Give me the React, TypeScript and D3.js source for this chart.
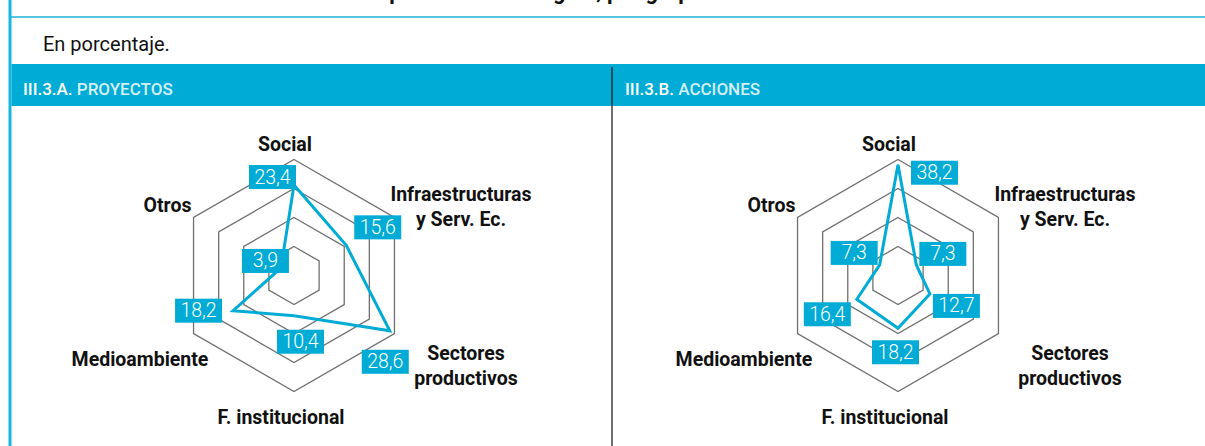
import * as d3 from 'd3';

// categories, clockwise from the top
const categoryLines = [
  ['Social'],
  ['Infraestructuras', 'y Serv. Ec.'],
  ['Sectores', 'productivos'],
  ['F. institucional'],
  ['Medioambiente'],
  ['Otros']
];

const proyectosValues = [23.4, 15.6, 28.6, 10.4, 18.2, 3.9];
const accionesValues = [38.2, 7.3, 12.7, 18.2, 16.4, 7.3];

// hexagon rings (scale ticks)
const proyectosGrid = [7.5, 15, 22.5, 30];
const accionesGrid = [10, 20, 30, 40];

const panelTitles = [
  { code: 'III.3.A.', name: 'PROYECTOS' },
  { code: 'III.3.B.', name: 'ACCIONES' }
];

// where each value box sits relative to its point (top-left corner)
const proyectosBoxOffsets = [[-45, -20], [8, -30], [-28, 19], [-17, 14], [-58, -12], [-39, -19]];
const accionesBoxOffsets = [[13, -4], [3, -23], [3, 0], [-26, 12], [-53, 3], [-49, -24]];

// category label placement relative to chart centre: [dx, first baseline dy]
const labelPlacement = [[-9, -124.5], [167, -74.5], [172, 84.5], [-13, 148], [-154, 90.5], [-126.5, -64]];

const BLUE = '#00acd6';
const R = 116;
const BOX_W = 47;
const BOX_H = 24;

const fmt = (v) => d3.format('.1f')(v).replace('.', ',');

function Radar({ cx, cy, values, grid, offsets }) {
  const n = values.length;
  const r = d3.scaleLinear().domain([0, d3.max(grid)]).range([0, R]);
  const angle = (i) => (i * 2 * Math.PI) / n;

  const radial = d3.lineRadial().angle((d, i) => angle(i)).radius((d) => r(d)).curve(d3.curveLinearClosed);
  const pt = (v, i) => [Math.sin(angle(i)) * r(v), -Math.cos(angle(i)) * r(v)];

  return (
    <g transform={`translate(${cx},${cy})`}>
      {grid.map((g) => (
        <path key={g} d={radial(d3.range(n).map(() => g))} fill="none" stroke="#707070" strokeWidth={1.3} />
      ))}
      <path d={radial(values)} fill="none" stroke={BLUE} strokeWidth={3} strokeLinejoin="miter" />
      {values.map((v, i) => {
        const [x, y] = pt(v, i);
        const bx = x + offsets[i][0];
        const by = y + offsets[i][1];
        return (
          <g key={i}>
            <rect x={bx} y={by} width={BOX_W} height={BOX_H} fill={BLUE} />
            <text x={bx + BOX_W / 2} y={by + 18.5} textAnchor="middle" fill="#fff"
              fontFamily="Roboto, sans-serif" fontWeight={300} fontSize={19.5}>{fmt(v)}</text>
          </g>
        );
      })}
      {categoryLines.map((lines, i) => (
        <text key={i} x={labelPlacement[i][0]} y={labelPlacement[i][1]} textAnchor="middle"
          fontFamily="Roboto, sans-serif" fontWeight={700} fontSize={19.5} fill="#111">
          {lines.map((l, j) => (
            <tspan key={j} x={labelPlacement[i][0]} dy={j === 0 ? 0 : 24.5}>{l}</tspan>
          ))}
        </text>
      ))}
    </g>
  );
}

export default function App() {
  const width = 1205;
  const height = 446;
  return (
    <svg width={width} height={height} style={{ position: 'absolute', left: 0, top: 0, background: '#fff' }}>
      {/* figure title, cut off by the top edge as in the source */}
      <text x={23} y={-1} fontFamily="Roboto, sans-serif" fontWeight={700} fontSize={22} fill="#111">
        <tspan fill={BLUE}>Gráfico III.3. </tspan>
        Perfil sectorial de la cooperación en la región, por grupo
      </text>
      <line x1={9} x2={width} y1={17} y2={17} stroke="#55c3e2" strokeWidth={2} />
      <line x1={10} x2={10} y1={0} y2={height} stroke="#16b6e1" strokeWidth={3} />

      <text x={43} y={51} fontFamily="Roboto, sans-serif" fontSize={20} fill="#111">En porcentaje.</text>

      <rect x={11.5} y={64} width={width - 11.5} height={42} fill={BLUE} />
      <line x1={612} x2={612} y1={67} y2={height} stroke="#111" strokeWidth={1.2} />
      {panelTitles.map((p, i) => (
        <text key={i} x={i === 0 ? 23 : 625} y={95} fontFamily="Roboto, sans-serif" fontWeight={500} fontSize={17}>
          <tspan fill="#fff">{p.code} </tspan>
          <tspan fill="#d4f1fa">{p.name}</tspan>
        </text>
      ))}

      <Radar cx={294} cy={275.5} values={proyectosValues} grid={proyectosGrid} offsets={proyectosBoxOffsets} />
      <Radar cx={898} cy={275.5} values={accionesValues} grid={accionesGrid} offsets={accionesBoxOffsets} />
    </svg>
  );
}
